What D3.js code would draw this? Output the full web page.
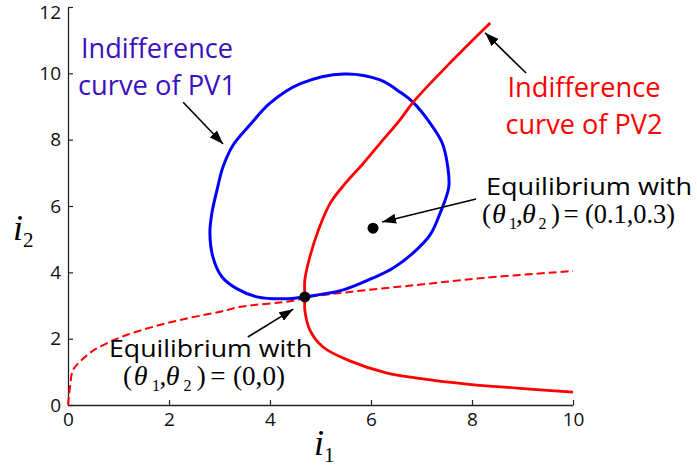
<!DOCTYPE html>
<html>
<head>
<meta charset="utf-8">
<script src="https://cdnjs.cloudflare.com/ajax/libs/d3/7.8.5/d3.min.js"></script>
<style>
  body { margin: 0; background: #fff; }
  svg { display: block; }
</style>
</head>
<body>
<svg id="chart" width="697" height="468"></svg>
<script>
// indifference curve of PV1 (closed loop), [i1, i2]
const pv1Curve = [
  [4.69, 3.26], [4.26, 3.20], [3.74, 3.26], [3.35, 3.50], [3.05, 3.86],
  [2.87, 4.46], [2.81, 5.19], [2.85, 5.79], [2.95, 6.48], [3.07, 7.18],
  [3.27, 7.84], [3.60, 8.44], [4.00, 9.10], [4.59, 9.68], [5.47, 9.98],
  [6.18, 9.80], [6.57, 9.44], [6.83, 9.13], [7.17, 8.50], [7.41, 7.90],
  [7.52, 7.18], [7.54, 6.57], [7.37, 5.79], [7.17, 5.13], [6.83, 4.58],
  [6.44, 4.13], [6.04, 3.83], [5.45, 3.47]
];
// indifference curve of PV2 (solid)
const pv2Curve = [
  [8.36, 11.52], [7.62, 10.40], [6.84, 9.14], [6.57, 8.59], [6.18, 7.89],
  [5.85, 7.29], [5.49, 6.68], [5.19, 6.08], [4.96, 5.28], [4.79, 4.47],
  [4.69, 3.77], [4.69, 3.26], [4.69, 2.86], [4.79, 2.26], [5.05, 1.75],
  [5.58, 1.33], [6.32, 0.96], [6.91, 0.81], [7.90, 0.63], [8.89, 0.51],
  [10.0, 0.39]
];
// dashed red curve
const pv2Dashed = [
  [0, 0], [0.04, 0.55], [0.10, 1.06], [0.24, 1.31], [0.47, 1.61],
  [0.77, 1.86], [1.16, 2.11], [1.69, 2.36], [2.35, 2.61], [3.01, 2.81],
  [3.41, 2.96], [4.46, 3.14], [4.69, 3.23], [5.58, 3.41], [6.91, 3.62],
  [8.22, 3.83], [10.0, 4.04]
];
const equilibria = [[4.69, 3.26], [6.04, 5.33]];

const xTicks = [0, 2, 4, 6, 8, 10];
const yTicks = [0, 2, 4, 6, 8, 10, 12];

const pv1Label = ["Indifference", "curve of PV1"];
const pv2Label = ["Indifference", "curve of PV2"];
const eqLabelA = ["Equilibrium with", "(0.1,0.3)"];
const eqLabelB = ["Equilibrium with", "(0,0)"];

const svg = d3.select("#chart");
const x = d3.scaleLinear().domain([0, 10]).range([68, 573]);
const y = d3.scaleLinear().domain([0, 12]).range([405, 7]);

const sans = "'Open Sans', Lato, sans-serif";
const serif = "'Liberation Serif', 'DejaVu Serif', serif";

// axes, ticks pointing inwards
const xAxis = svg.append("g").attr("transform", `translate(0,${y(0)})`)
  .call(d3.axisBottom(x).tickValues(xTicks).tickSizeInner(-5).tickSizeOuter(0).tickPadding(8));
const yAxis = svg.append("g").attr("transform", `translate(${x(0)},0)`)
  .call(d3.axisLeft(y).tickValues(yTicks).tickSizeInner(-5).tickSizeOuter(0).tickPadding(7));
[xAxis, yAxis].forEach(a => {
  a.select(".domain").attr("stroke", "#222").attr("stroke-width", 1.3);
  a.selectAll(".tick line").attr("stroke", "#222").attr("stroke-width", 1.2);
  a.selectAll(".tick text").attr("font-family", sans).attr("font-size", 19).attr("fill", "#111");
});
yAxis.selectAll(".tick").filter(d => d === 12).select("text").attr("dy", "0.6em");

const line = d3.line().x(d => x(d[0])).y(d => y(d[1]));

svg.append("path")
  .attr("d", line.curve(d3.curveCatmullRom.alpha(0.5))(pv2Dashed))
  .attr("fill", "none").attr("stroke", "#ff0000").attr("stroke-width", 2)
  .attr("stroke-dasharray", "8,4");

svg.append("path")
  .attr("d", line.curve(d3.curveCatmullRomClosed.alpha(0.5))(pv1Curve))
  .attr("fill", "none").attr("stroke", "#0000ff").attr("stroke-width", 3);

svg.append("path")
  .attr("d", line.curve(d3.curveCatmullRom.alpha(0.5))(pv2Curve))
  .attr("fill", "none").attr("stroke", "#ff0000").attr("stroke-width", 2.8);

svg.selectAll("circle.eq").data(equilibria).join("circle")
  .attr("class", "eq")
  .attr("cx", d => x(d[0])).attr("cy", d => y(d[1]))
  .attr("r", 5.5).attr("fill", "#000");

// arrows
svg.append("defs").append("marker")
  .attr("id", "head").attr("markerUnits", "userSpaceOnUse")
  .attr("viewBox", "0 0 14 10").attr("refX", 14).attr("refY", 5)
  .attr("markerWidth", 14).attr("markerHeight", 10).attr("orient", "auto")
  .append("path").attr("d", "M0,0L14,5L0,10z").attr("fill", "#000");

const arrows = [
  [[2.28, 9.13], [3.07, 7.87]],
  [[9.07, 10.01], [8.26, 11.22]],
  [[8.08, 6.21], [6.22, 5.52]],
  [[3.56, 2.05], [4.46, 2.89]]
];
svg.selectAll("line.arrow").data(arrows).join("line")
  .attr("class", "arrow")
  .attr("x1", d => x(d[0][0])).attr("y1", d => y(d[0][1]))
  .attr("x2", d => x(d[1][0])).attr("y2", d => y(d[1][1]))
  .attr("stroke", "#000").attr("stroke-width", 1.6)
  .attr("marker-end", "url(#head)");

// text labels
function twoLines(lines, cx, y0, dy, widths, color) {
  lines.forEach((s, i) => svg.append("text")
    .attr("font-family", sans).attr("font-size", 26.5)
    .attr("fill", color).attr("text-anchor", "middle")
    .attr("x", cx).attr("y", y0 + i * dy)
    .attr("textLength", widths[i]).attr("lengthAdjust", "spacingAndGlyphs")
    .text(s));
}
twoLines(pv1Label, 157, 58, 37, [152, 158], "#3a10c0");
twoLines(pv2Label, 584, 97, 37, [153, 157], "#ff0000");

// (θ1,θ2) = (...) set piece by piece like an equation editor
function eqLabel(lines, left, y0, width, mleft, y1, k, valOff, valW) {
  svg.append("text").attr("font-family", sans).attr("font-size", 24.5).attr("fill", "#000")
    .attr("x", left).attr("y", y0)
    .attr("textLength", width).attr("lengthAdjust", "spacingAndGlyphs")
    .text(lines[0]);
  const g = svg.append("g").attr("font-family", serif).attr("fill", "#000");
  const parts = [
    ["(", 0, 0, 27, "normal"], ["θ", 10, 0, 28, "italic"], ["1", 27, 6, 16, "normal"],
    [",", 34, 0, 27, "normal"], ["θ", 40, 0, 28, "italic"], ["2", 56.5, 6, 16, "normal"],
    [")", 69, 0, 27, "normal"], ["=", 81.5, 0, 27, "normal"]
  ];
  parts.forEach(p => g.append("text")
    .attr("x", mleft + p[1] * k).attr("y", y1 + p[2])
    .attr("font-size", p[3]).attr("font-style", p[4]).text(p[0]));
  g.append("text").attr("x", mleft + valOff).attr("y", y1).attr("font-size", 27)
    .attr("textLength", valW).attr("lengthAdjust", "spacingAndGlyphs")
    .text(lines[1]);
}
eqLabel(eqLabelA, 486, 195, 206, 482, 223, 1, 103, 90);
eqLabel(eqLabelB, 109, 357, 203, 123, 385, 1.07, 110, 52);

// axis titles
function axisTitle(cx, base, sub) {
  const t = svg.append("text").attr("font-family", serif).attr("x", cx).attr("y", base);
  t.append("tspan").attr("font-style", "italic").attr("font-size", 36).text("i");
  t.append("tspan").attr("font-size", 21).attr("dy", 7).text(sub);
}
axisTitle(314, 455, "1");
axisTitle(13, 240, "2");
</script>
</body>
</html>
